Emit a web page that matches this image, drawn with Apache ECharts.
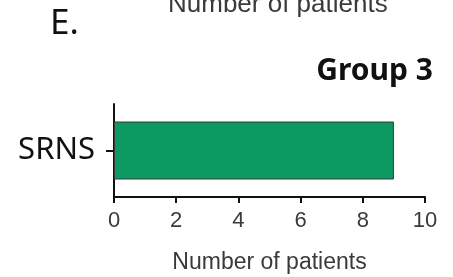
<!DOCTYPE html>
<html>
<head>
<meta charset="utf-8">
<script src="https://cdn.jsdelivr.net/npm/echarts@6/dist/echarts.min.js"></script>
<style>
  html, body { margin: 0; padding: 0; background: #fff; }
  #chart { width: 453px; height: 277px; }
</style>
</head>
<body>
<div id="chart"></div>
<script>
var categories = ['SRNS'];
var patientCounts = [9];
var xTicks = [0, 2, 4, 6, 8, 10];

var chart = echarts.init(document.getElementById('chart'));
chart.setOption({
    animation: false,
    grid: { left: 114, right: 28, top: 104, bottom: 80 },
    graphic: [
        {   // panel label
            type: 'text', left: 50, top: 7,
            style: { text: 'E.', font: '35px "Noto Sans"', fill: '#111' }
        },
        {   // axis title of the panel above, cut off by the crop
            type: 'text', left: 168, top: -8,
            style: { text: 'Number of patients', font: '26px "Liberation Sans"', fill: '#3a3a3a' }
        },
        {
            type: 'text', right: 20, top: 56,
            style: { text: 'Group 3', font: 'bold 30px "Noto Sans"', fill: '#111' }
        }
    ],
    xAxis: {
        type: 'value',
        min: xTicks[0],
        max: xTicks[xTicks.length - 1],
        interval: 2,
        name: 'Number of patients',
        nameLocation: 'middle',
        nameGap: 54,
        nameTextStyle: { fontFamily: 'Liberation Sans', fontSize: 23, color: '#3a3a3a' },
        axisLine: { show: true, lineStyle: { color: '#111', width: 2 } },
        axisTick: { show: true, length: 6, lineStyle: { color: '#111', width: 2 } },
        axisLabel: { fontFamily: 'Liberation Sans', fontSize: 22, color: '#3a3a3a', margin: 13 },
        splitLine: { show: false }
    },
    yAxis: {
        type: 'category',
        data: categories,
        axisLine: { show: true, lineStyle: { color: '#111', width: 2 } },
        axisTick: { show: true, alignWithLabel: true, length: 8, lineStyle: { color: '#111', width: 2 } },
        axisLabel: { fontFamily: 'Noto Sans', fontSize: 31, color: '#111', margin: 19 }
    },
    series: [{
        type: 'bar',
        data: patientCounts,
        barWidth: 58,
        itemStyle: { color: '#0c9962', borderColor: '#3a3a3a', borderWidth: 1 }
    }]
});
</script>
</body>
</html>
